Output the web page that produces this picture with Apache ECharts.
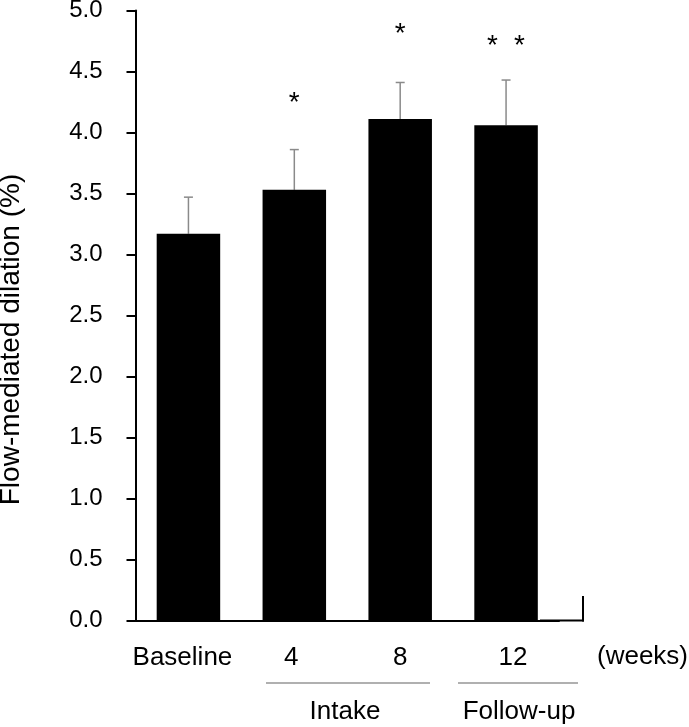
<!DOCTYPE html>
<html>
<head>
<meta charset="utf-8">
<script src="https://cdn.jsdelivr.net/npm/echarts@6/dist/echarts.min.js"></script>
<style>
html,body{margin:0;padding:0;background:#fff;}
#chart{width:689px;height:727px;}
</style>
</head>
<body>
<div id="chart"></div>
<script>
// ---- data ----
const categories = ['Baseline', '4', '8', '12'];
const fmdMean = [3.17, 3.53, 4.11, 4.06];
const fmdSD = [0.30, 0.33, 0.30, 0.37];
const asteriskCats = [1, 2, 3];          // category index: 4, 8, 12 weeks
const asteriskValues = [4.30, 4.86, 4.76];
const asteriskCounts = [1, 1, 2];
const yTicks = ['0.0','0.5','1.0','1.5','2.0','2.5','3.0','3.5','4.0','4.5','5.0'];
const unitLabel = '(weeks)';
const groupLabels = ['Intake', 'Follow-up'];
const yTitle = 'Flow-mediated dilation (%)';

// ---- styling (label nudges in px, negative = left) ----
const labelShift = [-6, -3, 0, 7];

const FONT = '"Liberation Sans", Arial, Helvetica, sans-serif';
const chart = echarts.init(document.getElementById('chart'), null, {renderer: 'canvas'});

const catData = categories.map((c, i) => {
  const s = labelShift[i];
  return {value: c, textStyle: {padding: s < 0 ? [0, -2 * s, 0, 0] : [0, 0, 0, 2 * s]}};
});
const errData = fmdMean.map((m, i) => [i, m, fmdSD[i]]);
const starData = asteriskCats.map((c, i) => [c, asteriskValues[i], asteriskCounts[i]]);

const option = {
  backgroundColor: '#fff',
  animation: false,
  grid: {left: 135.5, top: 10.5, width: 423.5, height: 610, containLabel: false, outerBoundsMode: 'none'},
  xAxis: {
    type: 'category',
    data: catData,
    boundaryGap: true,
    axisLine: {show: true, lineStyle: {color: '#000', width: 2}},
    axisTick: {show: false},
    axisLabel: {color: '#000', fontSize: 26, fontFamily: FONT, margin: 24, interval: 0},
    splitLine: {show: false}
  },
  yAxis: {
    type: 'value',
    min: 0, max: 5, interval: 0.5,
    name: yTitle,
    nameLocation: 'middle',
    nameRotate: 90,
    nameGap: 110,
    nameTextStyle: {color: '#000', fontSize: 28, fontFamily: FONT, padding: [0, 48, 0, 0]},
    axisLine: {show: true, lineStyle: {color: '#000', width: 2}},
    axisTick: {show: true, inside: false, length: 9, lineStyle: {color: '#000', width: 2}},
    axisLabel: {
      color: '#000', fontSize: 24, fontFamily: FONT, margin: 33,
      formatter: v => yTicks[Math.round(v / 0.5)]
    },
    splitLine: {show: false}
  },
  series: [
    {
      type: 'bar',
      data: fmdMean,
      barWidth: 63.5,
      itemStyle: {color: '#000'},
      z: 2
    },
    {
      type: 'custom',
      data: errData,
      z: 1,
      renderItem: function (params, api) {
        const x = api.value(0);
        const m = api.value(1);
        const sd = api.value(2);
        const p0 = api.coord([x, m]);
        const p1 = api.coord([x, m + sd]);
        const half = 4.5;
        const style = {stroke: '#8a8a8a', lineWidth: 1.5, fill: null};
        return {
          type: 'group',
          children: [
            {type: 'line', shape: {x1: p0[0], y1: p0[1], x2: p1[0], y2: p1[1]}, style: style},
            {type: 'line', shape: {x1: p1[0] - half, y1: p1[1], x2: p1[0] + half, y2: p1[1]}, style: style}
          ]
        };
      }
    },
    {
      type: 'custom',
      data: starData,
      z: 3,
      renderItem: function (params, api) {
        const p = api.coord([api.value(0), api.value(1)]);
        const n = api.value(2);
        const gap = 27;
        const children = [];
        for (let k = 0; k < n; k++) {
          const dx = (k - (n - 1) / 2) * gap;
          children.push({
            type: 'text',
            x: p[0] + dx,
            y: p[1] + 7,
            style: {text: '*', fontSize: 28, fontFamily: FONT, fill: '#000', textAlign: 'center', textVerticalAlign: 'middle'}
          });
        }
        return {type: 'group', children: children};
      }
    }
  ],
  graphic: [
    // x-axis extension and end tick
    {type: 'line', shape: {x1: 540, y1: 620.5, x2: 584, y2: 620.5}, style: {stroke: '#000', lineWidth: 2}},
    {type: 'line', shape: {x1: 583, y1: 596, x2: 583, y2: 621.5}, style: {stroke: '#000', lineWidth: 2}},
    // unit label
    {type: 'text', left: 597, top: 644, style: {text: unitLabel, fontSize: 26, fontFamily: FONT, fill: '#000'}},
    // group brackets
    {type: 'line', shape: {x1: 266, y1: 683, x2: 430, y2: 683}, style: {stroke: '#b0b0b0', lineWidth: 2}},
    {type: 'line', shape: {x1: 458, y1: 683, x2: 578, y2: 683}, style: {stroke: '#b0b0b0', lineWidth: 2}},
    {type: 'text', x: 345, y: 712, style: {text: groupLabels[0], fontSize: 26, fontFamily: FONT, fill: '#000', textAlign: 'center', textVerticalAlign: 'middle'}},
    {type: 'text', x: 519, y: 712, style: {text: groupLabels[1], fontSize: 26, fontFamily: FONT, fill: '#000', textAlign: 'center', textVerticalAlign: 'middle'}}
  ]
};
chart.setOption(option);
</script>
</body>
</html>
